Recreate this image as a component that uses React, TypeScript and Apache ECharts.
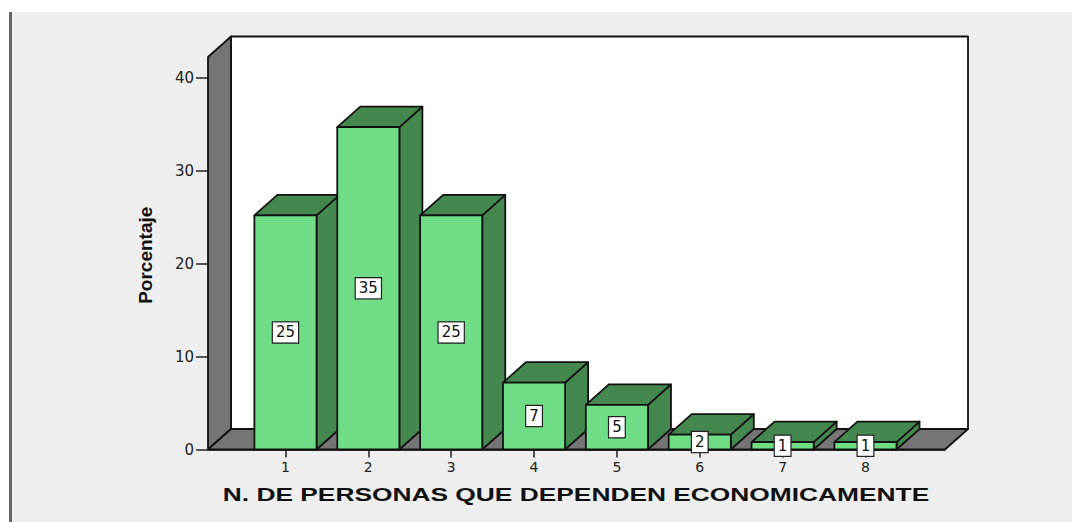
import React, { useEffect, useRef } from "react";
import * as echarts from "echarts";

const categories = [1, 2, 3, 4, 5, 6, 7, 8];
const barHeights = [25.2, 34.7, 25.2, 7.2, 4.8, 1.6, 0.8, 0.8];
const barLabels = ["25", "35", "25", "7", "5", "2", "1", "1"];
const yTicks = [0, 10, 20, 30, 40];
const xName = "N. DE PERSONAS QUE DEPENDEN ECONOMICAMENTE";
const yName = "Porcentaje";

const X_MIN = 0.065;
const X_MAX = 8.96;
const Y_MAX = 42.25;
const DX = 23;
const DY = -20.5;
const STROKE = "#111111";

const poly = (points: number[][], fill: string) => ({
  type: "polygon",
  shape: { points },
  style: { fill, stroke: STROKE, lineWidth: 1.8, lineJoin: "round" },
});

export default function App() {
  const ref = useRef<HTMLDivElement>(null);
  useEffect(() => {
    document.body.style.margin = "0";
    const chart = echarts.init(ref.current!, undefined, { renderer: "svg" });
    chart.setOption({
      animation: false,
      backgroundColor: "#ffffff",
      textStyle: { fontFamily: "DejaVu Sans" },
      grid: { left: 208, right: 127, top: 57, bottom: 72.5 },
      xAxis: {
        type: "value",
        min: X_MIN,
        max: X_MAX,
        splitLine: { show: false },
        axisLine: { show: true, lineStyle: { color: STROKE, width: 1.5 } },
        axisTick: { show: true, length: 8, customValues: categories, lineStyle: { color: "#222", width: 1.5 } },
        axisLabel: { customValues: categories, color: "#222", fontSize: 14, margin: 10, fontFamily: "DejaVu Sans" },
      },
      yAxis: {
        type: "value",
        min: 0,
        max: Y_MAX,
        name: yName,
        nameLocation: "middle",
        nameGap: 53,
        nameTextStyle: { fontFamily: "Liberation Sans", fontWeight: "bold", fontSize: 19, color: "#111", padding: [0, 4, 0, 0] },
        splitLine: { show: false },
        axisLine: { show: false },
        axisTick: { show: true, length: 12, customValues: yTicks, lineStyle: { color: "#222", width: 1.5 } },
        axisLabel: { customValues: yTicks, color: "#222", fontSize: 15, margin: 14, fontFamily: "DejaVu Sans" },
      },
      graphic: [
        { type: "rect", z: -10, shape: { x: 12, y: 12, width: 1060, height: 510 }, style: { fill: "#eeeeee" } },
        { type: "rect", z: -9, shape: { x: 9, y: 12, width: 3, height: 510 }, style: { fill: "#666666" } },
        {
          type: "text",
          z: 5,
          x: 576,
          y: 495,
          scaleX: 1.463,
          style: {
            text: xName,
            align: "center",
            verticalAlign: "middle",
            font: 'bold 18px "Liberation Sans"',
            fill: "#111111",
          },
        },
      ],
      series: [
        {
          type: "custom",
          z: 1,
          silent: true,
          clip: false,
          data: [[X_MIN, Y_MAX]],
          renderItem: (_p: any, api: any) => {
            const [l, t] = api.coord([X_MIN, Y_MAX]);
            const [r, b] = api.coord([X_MAX, 0]);
            return {
              type: "group",
              children: [
                poly([[l + DX, t + DY], [r + DX, t + DY], [r + DX, b + DY], [l + DX, b + DY]], "#ffffff"),
                poly([[l, t], [l + DX, t + DY], [l + DX, b + DY], [l, b]], "#757575"),
                poly([[l, b], [l + DX, b + DY], [r + DX, b + DY], [r, b]], "#757575"),
              ],
            };
          },
        },
        {
          type: "custom",
          z: 2,
          silent: true,
          clip: false,
          encode: { x: 0, y: 1 },
          data: categories.map((c, i) => [c, barHeights[i]]),
          renderItem: (p: any, api: any) => {
            const [cx, top] = api.coord([api.value(0), api.value(1)]);
            const [, base] = api.coord([api.value(0), 0]);
            const half = (api.size([1, 0])[0] * 0.75) / 2;
            const l = cx - half;
            const r = cx + half;
            return {
              type: "group",
              children: [
                poly([[r, top], [r + DX, top + DY], [r + DX, base + DY], [r, base]], "#448850"),
                poly([[l, top], [l + DX, top + DY], [r + DX, top + DY], [r, top]], "#448850"),
                poly([[l, top], [r, top], [r, base], [l, base]], "#6fdd85"),
              ],
            };
          },
        },
        {
          type: "custom",
          z: 3,
          silent: true,
          clip: false,
          encode: { x: 0, y: 1 },
          data: categories.map((c, i) => [c, barHeights[i]]),
          renderItem: (p: any, api: any) => {
            const c = api.coord([api.value(0), api.value(1) / 2]);
            return {
              type: "text",
              x: c[0],
              y: c[1],
              style: {
                text: barLabels[p.dataIndex],
                align: "center",
                verticalAlign: "middle",
                fontFamily: "DejaVu Sans",
                fontSize: 15,
                fill: "#111",
                backgroundColor: "#ffffff",
                borderColor: "#222",
                borderWidth: 1.2,
                padding: [3, 3, 2, 3],
              },
            };
          },
        },
      ],
    });
    return () => chart.dispose();
  }, []);
  return <div ref={ref} style={{ width: 1072, height: 522 }} />;
}
